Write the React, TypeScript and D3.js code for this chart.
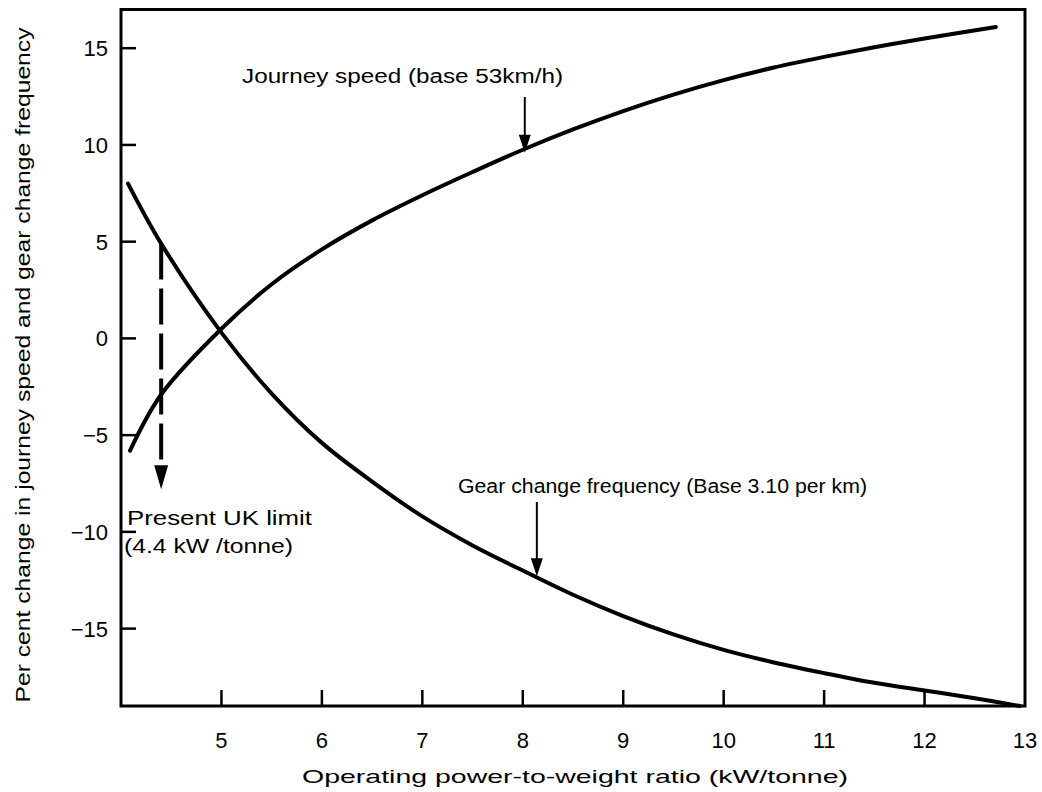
import React from "react";
import * as d3 from "d3";

const speedX = [4.09, 4.4, 5.0, 5.5, 6.0, 6.5, 7.0, 7.5, 8.0, 8.5, 9.0, 9.5, 10.0, 10.5, 11.0, 11.5, 12.0, 12.71];
const speedY = [-5.8, -2.9, 0.5, 2.8, 4.6, 6.1, 7.4, 8.6, 9.75, 10.8, 11.75, 12.6, 13.35, 14.0, 14.55, 15.05, 15.5, 16.1];

const gearX = [4.07, 4.4, 5.0, 5.5, 6.0, 6.5, 7.0, 7.5, 8.0, 8.5, 9.0, 9.5, 10.0, 10.5, 11.0, 11.5, 12.0, 12.5, 12.95];
const gearY = [8.0, 4.9, 0.3, -2.85, -5.4, -7.4, -9.2, -10.7, -12.0, -13.25, -14.35, -15.3, -16.1, -16.75, -17.3, -17.8, -18.2, -18.6, -19.0];

const xTicks = [5, 6, 7, 8, 9, 10, 11, 12, 13];
const yTicks = [15, 10, 5, 0, -5, -10, -15];

const limitX = 4.4;
const limitTop = 4.9;
const limitBottom = -7.8;

const speedArrowX = 8.02;
const speedArrowTip = 9.6;
const gearArrowX = 8.14;
const gearArrowTip = -12.3;

const W = 1042;
const H = 792;
const L = 121, R = 1025, T = 9.5, B = 706;

const fmt = (v: number) => (v < 0 ? "\u2212" + Math.abs(v) : String(v));

export default function App() {
  const x = d3.scaleLinear().domain([4, 13]).range([L, R]);
  const y = d3.scaleLinear().domain([-19, 17]).range([B, T]);
  const line = d3
    .line<[number, number]>()
    .x((d) => x(d[0]))
    .y((d) => y(d[1]))
    .curve(d3.curveCatmullRom.alpha(0.5));
  const speedPts = speedX.map((v, i) => [v, speedY[i]] as [number, number]);
  const gearPts = gearX.map((v, i) => [v, gearY[i]] as [number, number]);
  const font = "'Liberation Sans', Arial, sans-serif";

  const arrowHead = (cx: number, tipY: number, len: number, half: number) =>
    `M${cx - half},${tipY - len} L${cx + half},${tipY - len} L${cx},${tipY} Z`;

  return (
    <svg
      width={W}
      height={H}
      style={{ position: "absolute", left: 0, top: 0, background: "#fff" }}
      fontFamily={font}
    >
      <rect x={0} y={0} width={W} height={H} fill="#fff" />
      <rect x={L} y={T} width={R - L} height={B - T} fill="none" stroke="#000" strokeWidth={3} />
      {yTicks.map((t) => (
        <g key={"y" + t}>
          <line x1={L} x2={L + 15} y1={y(t)} y2={y(t)} stroke="#000" strokeWidth={2.5} />
          <text x={108} y={y(t)} dy="0.36em" textAnchor="end" fontSize={22}>
            {fmt(t)}
          </text>
        </g>
      ))}
      {xTicks.map((t) => (
        <g key={"x" + t}>
          {t < 13 && (
            <line x1={x(t)} x2={x(t)} y1={B} y2={B - 16} stroke="#000" strokeWidth={2.5} />
          )}
          <text x={x(t)} y={748} textAnchor="middle" fontSize={22}>
            {t}
          </text>
        </g>
      ))}
      <path d={line(speedPts) || ""} fill="none" stroke="#000" strokeWidth={4} strokeLinecap="round" />
      <path d={line(gearPts) || ""} fill="none" stroke="#000" strokeWidth={4} strokeLinecap="round" />
      <line
        x1={x(limitX)}
        x2={x(limitX)}
        y1={y(limitTop)}
        y2={y(limitBottom) - 22}
        stroke="#000"
        strokeWidth={4}
        strokeDasharray="36 9"
      />
      <path d={arrowHead(x(limitX), y(limitBottom), 24, 7)} fill="#000" />
      <line x1={x(speedArrowX)} x2={x(speedArrowX)} y1={97} y2={y(speedArrowTip) - 15} stroke="#000" strokeWidth={2} />
      <path d={arrowHead(x(speedArrowX), y(speedArrowTip), 18, 6)} fill="#000" />
      <text x={242} y={83} fontSize={20} textLength={321} lengthAdjust="spacingAndGlyphs">
        Journey speed (base 53km/h)
      </text>
      <line x1={x(gearArrowX)} x2={x(gearArrowX)} y1={502} y2={y(gearArrowTip) - 15} stroke="#000" strokeWidth={2} />
      <path d={arrowHead(x(gearArrowX), y(gearArrowTip), 18, 6)} fill="#000" />
      <text x={458} y={493} fontSize={20} textLength={409} lengthAdjust="spacingAndGlyphs">
        Gear change frequency (Base 3.10 per km)
      </text>
      <text x={127} y={525} fontSize={20} textLength={185} lengthAdjust="spacingAndGlyphs">
        Present UK limit
      </text>
      <text x={124} y={553} fontSize={20} textLength={169} lengthAdjust="spacingAndGlyphs">
        (4.4 kW /tonne)
      </text>
      <text x={302} y={783} fontSize={19} textLength={546} lengthAdjust="spacingAndGlyphs">
        Operating power-to-weight ratio (kW/tonne)
      </text>
      <text
        transform={`translate(30, 365) rotate(-90)`}
        textAnchor="middle"
        fontSize={21}
        textLength={675}
        lengthAdjust="spacingAndGlyphs"
      >
        Per cent change in journey speed and gear change frequency
      </text>
    </svg>
  );
}
